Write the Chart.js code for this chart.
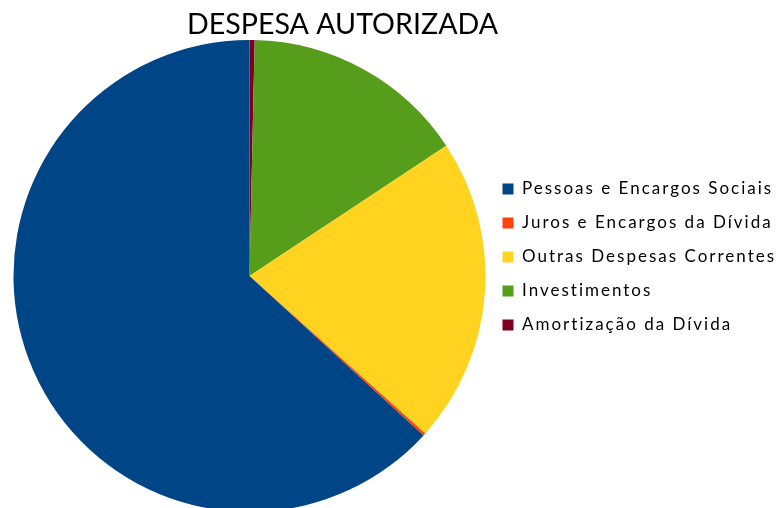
<!DOCTYPE html>
<html>
<head>
<meta charset="utf-8">
<title>Despesa autorizada</title>
<script src="https://cdn.jsdelivr.net/npm/chart.js@4.4.1/dist/chart.umd.min.js"></script>
<style>
    html, body { margin: 0; padding: 0; background: #fff; overflow: hidden; }
</style>
</head>
<body>
<canvas id="chart-despesa" width="781" height="512"></canvas>
<script>
    const TITLE = 'DESPESA AUTORIZADA';
    const categories = ['Pessoas e Encargos Sociais', 'Juros e Encargos da Dívida', 'Outras Despesas Correntes', 'Investimentos', 'Amortização da Dívida'];
    const values = [63.2, 0.17, 20.94, 15.34, 0.35];   // % da despesa autorizada
    const colors = ['#004586', '#ff420e', '#ffd320', '#579d1c', '#7e0021'];

    Chart.defaults.font.family = 'Lato';
    Chart.defaults.color = '#000';

    // a planilha desenha as fatias no sentido anti-horário,
    // então a série vai invertida e a legenda volta à ordem original
    const reversed = (arr) => arr.slice().reverse();

    // legenda com o espaçamento largo da planilha
    const legendSpacing = {
        id: 'legendSpacing',
        beforeLayout(chart) {
            chart.ctx.letterSpacing = '2px';
        },
        beforeDraw(chart) {
            chart.ctx.letterSpacing = '2px';
        }
    };

    // título como caixa do layout, mas sem o espaçamento da legenda
    // e centrado onde a planilha o põe (não no meio do canvas)
    const sheetTitle = {
        id: 'sheetTitle',
        start(chart, args, opts) {
            const box = {
                position: 'top',
                weight: 2000,
                fullSize: true,
                options: {},
                left: 0, top: 0, right: 0, bottom: 0, width: 0, height: 0,
                isHorizontal() {
                    return true;
                },
                update(maxWidth) {
                    this.width = maxWidth;
                    this.height = opts.height;
                },
                draw() {
                    const ctx = chart.ctx;
                    ctx.save();
                    ctx.letterSpacing = '0px';
                    ctx.font = opts.size + 'px Lato';
                    ctx.fillStyle = '#000';
                    ctx.textAlign = 'center';
                    ctx.textBaseline = 'alphabetic';
                    ctx.fillText(opts.text, opts.x, this.top + opts.baseline);
                    ctx.restore();
                }
            };
            Chart.layouts.addBox(chart, box);
        }
    };

    new Chart(document.getElementById('chart-despesa'), {
        type: 'pie',
        data: {
            labels: reversed(categories),
            datasets: [{
                data: reversed(values),
                backgroundColor: reversed(colors),
                borderWidth: 0,
                hoverOffset: 0
            }]
        },
        options: {
            responsive: false,
            animation: false,
            layout: {
                padding: {top: 2, left: 13.5, right: 0, bottom: 0}
            },
            plugins: {
                sheetTitle: {
                    text: TITLE,
                    size: 28.6,
                    height: 38,
                    x: 342.5,
                    baseline: 32
                },
                legend: {
                    position: 'right',
                    reverse: true,
                    maxWidth: 295.5,
                    labels: {
                        boxWidth: 11,
                        boxHeight: 11,
                        padding: 17,
                        font: {size: 17}
                    }
                },
                tooltip: {enabled: false}
            }
        },
        plugins: [legendSpacing, sheetTitle]
    });
</script>
</body>
</html>
